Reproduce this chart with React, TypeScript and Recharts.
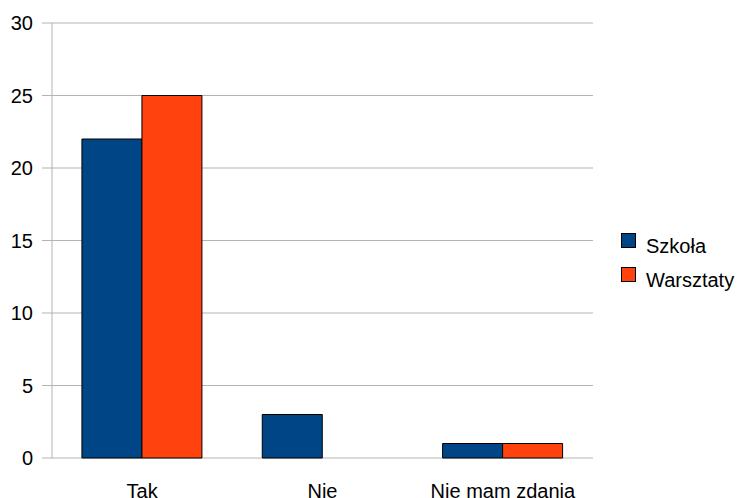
import React from 'react'
import { BarChart, Bar, XAxis, YAxis, CartesianGrid, Legend, ReferenceLine } from 'recharts'

const categories = ['Tak', 'Nie', 'Nie mam zdania']
const szkola = [22, 3, 1]
const warsztaty = [25, 0, 1]
const yTicks = [0, 5, 10, 15, 20, 25, 30]

const series = [
  { key: 'szkola', name: 'Szkoła', color: '#004586' },
  { key: 'warsztaty', name: 'Warsztaty', color: '#ff420e' },
]

const data = categories.map((name, i) => ({ name, szkola: szkola[i], warsztaty: warsztaty[i] }))

const GRID = '#b3b3b3'
const FONT = '"Liberation Sans", Arial, sans-serif'

const LegendBox = () => (
  <div style={{ fontFamily: FONT, fontSize: 20, color: '#000' }}>
    {series.map((s) => (
      <div key={s.key} style={{ position: 'relative', height: 34, width: 124 }}>
        <div
          style={{
            position: 'absolute',
            left: 0,
            top: 0,
            width: 15,
            height: 15,
            boxSizing: 'border-box',
            background: s.color,
            border: '1px solid #000',
          }}
        />
        <span style={{ position: 'absolute', left: 25, top: 3, lineHeight: '20px', whiteSpace: 'nowrap' }}>{s.name}</span>
      </div>
    ))}
  </div>
)

export default function App() {
  return (
    <div style={{ position: 'absolute', left: 0, top: 0 }}>
      <BarChart
        width={745}
        height={498}
        data={data}
        margin={{ top: 23, right: 152, left: 0, bottom: 0 }}
        barCategoryGap="16.6%"
        barGap={0}
        style={{ fontFamily: FONT }}
      >
        <CartesianGrid vertical={false} stroke={GRID} strokeWidth={1} />
        <XAxis
          xAxisId="bounds"
          type="number"
          domain={[0, 3]}
          ticks={[0, 1, 2, 3]}
          allowDataOverflow
          height={0}
          tick={false}
          tickSize={10}
          tickLine={{ stroke: GRID }}
          axisLine={{ stroke: GRID }}
        />
        <XAxis
          dataKey="name"
          height={40}
          tickLine={false}
          axisLine={false}
          tickSize={0}
          tickMargin={26}
          tick={{ fill: '#000', fontSize: 20 }}
        />
        <YAxis
          width={52}
          domain={[0, 30]}
          ticks={yTicks}
          interval={0}
          tickSize={10}
          tickMargin={9}
          tickLine={{ stroke: GRID }}
          axisLine={{ stroke: GRID }}
          tick={{ fill: '#000', fontSize: 20 }}
        />
        <ReferenceLine xAxisId="bounds" x={3} stroke={GRID} />
        <Legend
          layout="vertical"
          align="center"
          verticalAlign="middle"
          content={<LegendBox />}
          wrapperStyle={{ left: 621, top: 233, width: 124 }}
        />
        {series.map((s) => (
          <Bar
            key={s.key}
            dataKey={s.key}
            name={s.name}
            fill={s.color}
            stroke="#000"
            strokeWidth={1}
            isAnimationActive={false}
          />
        ))}
      </BarChart>
    </div>
  )
}
